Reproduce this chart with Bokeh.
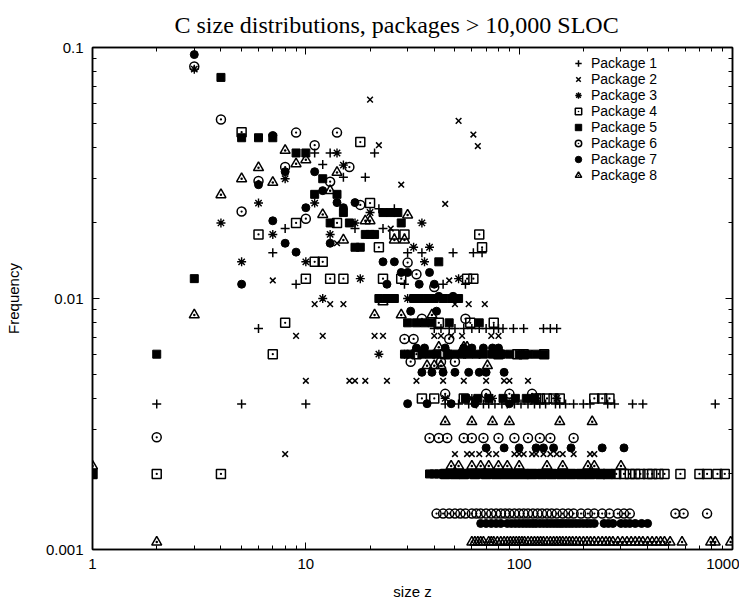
from bokeh.plotting import figure
from bokeh.models import LogAxis, FixedTicker, Legend, LegendItem, CustomJSTickFormatter
from bokeh.embed import file_html
from bokeh.resources import INLINE

# ---------------- data (size z, frequency) ----------------
names = ["Package 1", "Package 2", "Package 3", "Package 4",
         "Package 5", "Package 6", "Package 7", "Package 8"]

pkg1_x = [2, 5, 6, 7, 8, 9, 10, 11, 12, 13, 15, 17, 19, 21, 22, 23, 26, 29, 30, 35, 44, 49, 56, 61, 67]
pkg1_y = [0.0038, 0.0038, 0.0076, 0.0152, 0.019, 0.0114, 0.0038, 0.038, 0.0342, 0.038, 0.0304, 0.019,
          0.0304, 0.038, 0.0228, 0.019, 0.0228, 0.0114, 0.0152, 0.0152, 0.0114, 0.0152, 0.0114, 0.0152, 0.0152]
pkg1_rows = {
    0.0076: [40, 43, 47, 50, 55, 60, 65, 70, 76, 80, 84, 94, 105, 130, 140, 150],
    0.0038: [45, 52, 58, 63, 68, 72, 77, 83, 88, 95, 102, 110, 118, 125, 133, 148, 155, 165, 180,
             200, 215, 260, 280, 340, 380, 830],
}

pkg2_x = [7, 8, 9, 10, 11, 12, 13, 14, 15, 16, 17, 19, 20, 21, 22, 23, 24, 25, 28, 33, 40, 43, 44, 45,
          47, 48, 50, 52, 54, 55, 58, 61, 64, 69, 70, 74, 80, 85, 90, 110]
pkg2_y = [0.0118, 0.0024, 0.0071, 0.0047, 0.0095, 0.0071, 0.0095, 0.0166, 0.0095, 0.0047, 0.0047, 0.0047,
          0.062, 0.0071, 0.0408, 0.0071, 0.0047, 0.019, 0.0284, 0.0047, 0.0071, 0.0071, 0.0047, 0.0238,
          0.0118, 0.0071, 0.0095, 0.051, 0.0071, 0.0047, 0.0095, 0.045, 0.0405, 0.0095, 0.0047, 0.0071,
          0.0071, 0.0047, 0.0047, 0.0047]
pkg2_rows = {
    0.0024: [50, 57, 60, 65, 72, 78, 95, 100, 105, 115, 120, 130, 140, 150, 160, 180, 215, 225],
}

pkg3_x = [3, 4, 5, 6, 7, 8, 10, 11, 12, 13, 14, 15, 17, 18, 20, 22, 29, 30, 32, 35, 36, 38, 52]
pkg3_y = [0.082, 0.020, 0.014, 0.024, 0.018, 0.030, 0.014, 0.024, 0.010, 0.018, 0.038, 0.034, 0.020,
          0.012, 0.022, 0.006, 0.006, 0.010, 0.016, 0.020, 0.014, 0.016, 0.012]
pkg3_rows = {
    0.006: [40, 48, 55, 65, 85, 105],
    0.004: [45, 60, 75, 95, 120, 150],
    0.002: [130, 180, 220, 260],
}

pkg4_x = [1, 2, 4, 5, 6, 7, 8, 9, 10, 11, 12, 13, 14, 15, 18, 20, 22, 23, 26, 28, 29, 42, 57, 59, 61,
          65, 67, 76]
pkg4_y = [0.002, 0.002, 0.002, 0.046, 0.018, 0.006, 0.008, 0.020, 0.012, 0.014, 0.014, 0.012, 0.020,
          0.012, 0.042, 0.024, 0.016, 0.012, 0.018, 0.012, 0.018, 0.008, 0.012, 0.008, 0.012, 0.018,
          0.016, 0.008]
pkg4_rows = {
    0.006: [33, 45, 80, 98, 105, 131],
    0.004: [35, 40, 55, 120, 125, 135, 145, 155, 225, 245, 265],
    0.002: [45, 50, 55, 62, 70, 78, 86, 95, 105, 115, 128, 142, 158, 175, 195, 215, 240, 260, 285,
            310, 330, 350, 370, 400, 420, 450, 480, 570, 700, 760, 850, 920],
}

pkg5_x = [1, 2, 3, 4, 5, 6, 7, 9, 10, 11, 12, 13, 14, 15, 16, 17, 18, 19, 20, 21, 23, 25, 27, 28, 42]
pkg5_y = [0.002, 0.006, 0.012, 0.076, 0.0437, 0.0437, 0.0437, 0.038, 0.038, 0.026, 0.030, 0.020, 0.026,
          0.022, 0.020, 0.016, 0.016, 0.018, 0.018, 0.018, 0.022, 0.022, 0.022, 0.020, 0.014]
pkg5_rows = {
    0.010: [22, 24, 26, 32, 34, 37, 40, 44, 48, 52],
    0.008: [30, 33, 36, 39, 47, 65],
    0.006: [29, 31, 35, 38, 41, 46, 50, 54, 58, 63, 68, 75, 82, 90, 100, 110, 120, 130],
    0.004: [56, 64, 72, 84, 96, 108, 118],
    0.002: [38, 40, 42, 44, 46, 48, 50, 52, 54, 56, 58, 60, 62, 64, 66, 68, 70, 73, 76, 79, 82, 85, 88,
            91, 94, 97, 100, 104, 108, 112, 116, 120, 125, 130, 135, 140, 145, 150, 155, 160, 170, 180,
            190, 200, 210, 220, 230, 240, 250, 270],
}

pkg6_x = [2, 3, 4, 5, 6, 8, 9, 10, 11, 13, 14, 16, 18, 29, 30, 31, 32, 33, 35, 40, 43, 47, 50, 56]
pkg6_y = [0.0028, 0.084, 0.0517, 0.0222, 0.0294, 0.0334, 0.0458, 0.0208, 0.0408, 0.0292, 0.0458,
          0.0334, 0.0236, 0.0069, 0.0139, 0.0056, 0.0069, 0.0125, 0.0083, 0.0111, 0.0056, 0.0069,
          0.0056, 0.0083]
pkg6_rows = {
    0.00417: [45, 70, 90, 115],
    0.00278: [38, 42, 46, 55, 60, 68, 80, 95, 110, 125, 140, 180],
    0.00139: [41, 44, 47, 50, 53, 56, 60, 63, 66, 70, 74, 78, 82, 86, 90, 95, 100, 105, 110, 116, 122,
              128, 135, 142, 150, 160, 170, 180, 195, 210, 225, 245, 265, 290, 310, 330, 540, 590, 760],
}

pkg7_x = [3, 5, 6, 7, 7, 8, 8, 9, 10, 11, 12, 13, 14, 15, 17, 23, 24, 26, 28, 30, 31, 34, 38, 40, 41,
          42, 49]
pkg7_y = [0.0937, 0.0114, 0.0284, 0.0446, 0.0204, 0.032, 0.0166, 0.0153, 0.023, 0.032, 0.0269, 0.0166,
          0.0241, 0.023, 0.0241, 0.014, 0.0114, 0.014, 0.0127, 0.0127, 0.0089, 0.0114, 0.0127, 0.0114,
          0.0089, 0.0102, 0.0102]
pkg7_rows = {
    0.00635: [33, 36, 45, 55, 60, 68, 75, 80],
    0.00508: [35, 39, 44, 50, 58, 65, 70, 85],
    0.00381: [30, 37, 48, 62, 90],
    0.00254: [70, 85, 100, 120, 130, 145, 175, 245, 310],
    0.00127: [66, 70, 74, 78, 82, 88, 92, 96, 100, 104, 108, 112, 116, 120, 125, 130, 135, 140, 145,
              150, 155, 160, 166, 172, 178, 185, 192, 200, 208, 216, 225, 250, 262, 275, 300, 315, 330,
              350, 375, 400],
}

pkg8_x = [1, 2, 3, 4, 5, 6, 7, 8, 9, 10, 12, 13, 14, 15, 19, 20, 21, 23, 26, 28, 29, 30, 37, 39, 40,
          42, 43, 55, 57, 71]
pkg8_y = [0.00215, 0.00107, 0.0086, 0.0259, 0.030, 0.0332, 0.029, 0.0389, 0.0344, 0.0357, 0.0216,
          0.0269, 0.0318, 0.0171, 0.0204, 0.0204, 0.0086, 0.0097, 0.0171, 0.0086, 0.0171, 0.0215,
          0.0054, 0.0086, 0.0054, 0.0064, 0.0054, 0.0064, 0.0064, 0.0054]
pkg8_rows = {
    0.00323: [45, 60, 75, 90, 155, 220],
    0.00215: [48, 52, 60, 66, 72, 80, 88, 100, 135, 160, 210, 225, 300],
    0.00107: [60, 62, 64, 66, 68, 72, 74, 76, 79, 82, 85, 88, 91, 94, 97, 100, 103, 106, 110, 114, 118,
              122, 126, 130, 135, 140, 145, 150, 155, 160, 166, 172, 178, 185, 192, 200, 208, 216, 225,
              235, 245, 255, 265, 275, 290, 305, 320, 335, 350, 365, 380, 400, 420, 440, 460, 480, 510,
              580, 790, 830, 980],
}

x_ticks = [1, 10, 100, 1000]
x_tick_labels = ["1", "10", "100", "1000"]
y_ticks = [0.001, 0.01, 0.1]
y_tick_labels = ["0.001", "0.01", "0.1"]


def merge(xs, ys, rows):
    ax, ay = list(xs), list(ys)
    for level, row in rows.items():
        ax += row
        ay += [level] * len(row)
    return ax, ay


series = [merge(pkg1_x, pkg1_y, pkg1_rows), merge(pkg2_x, pkg2_y, pkg2_rows),
          merge(pkg3_x, pkg3_y, pkg3_rows), merge(pkg4_x, pkg4_y, pkg4_rows),
          merge(pkg5_x, pkg5_y, pkg5_rows), merge(pkg6_x, pkg6_y, pkg6_rows),
          merge(pkg7_x, pkg7_y, pkg7_rows), merge(pkg8_x, pkg8_y, pkg8_rows)]

# ---------------- figure ----------------
p = figure(frame_width=640, frame_height=502, x_axis_type="log", y_axis_type="log",
           x_range=(1, 1000), y_range=(0.001, 0.1),
           output_backend="svg", toolbar_location=None,
           min_border_left=92, min_border_right=7, min_border_top=45, min_border_bottom=40,
           title="C size distributions, packages > 10,000 SLOC")
p.title.text_font = "Liberation Serif"
p.title.text_font_size = "24px"
p.title.text_font_style = "normal"
p.title.text_color = "black"
p.title.text_line_height = 1.0
p.title.align = "left"
p.title.offset = 82
p.title.standoff = 19
p.grid.visible = False
p.outline_line_color = "black"
p.outline_line_width = 1.5
p.background_fill_color = "white"
p.border_fill_color = "white"

x_minor = [m * 10 ** d for d in range(0, 3) for m in range(2, 10)]
y_minor = [m * 10.0 ** d for d in (-3, -2) for m in range(2, 10)]


def style_axis(ax, ticks, minor):
    ax.ticker = FixedTicker(ticks=ticks, minor_ticks=minor)
    ax.major_tick_in = 7
    ax.major_tick_out = 0
    ax.minor_tick_in = 4
    ax.minor_tick_out = 0
    ax.axis_line_color = "black"
    ax.axis_line_width = 1.5
    ax.major_tick_line_color = "black"
    ax.minor_tick_line_color = "black"
    ax.major_label_text_font = "Liberation Sans"
    ax.major_label_text_font_size = "15px"
    ax.major_label_text_color = "black"
    ax.axis_label_text_font = "Liberation Sans"
    ax.axis_label_text_font_size = "15px"
    ax.axis_label_text_font_style = "normal"
    ax.axis_label_text_color = "black"


style_axis(p.xaxis[0], x_ticks, x_minor)
style_axis(p.yaxis[0], y_ticks, y_minor)
p.xaxis[0].major_label_overrides = dict(zip(x_ticks, x_tick_labels))
p.yaxis[0].major_label_overrides = dict(zip(y_ticks, y_tick_labels))
p.xaxis[0].major_label_standoff = 9
p.yaxis[0].major_label_standoff = 9
p.xaxis[0].axis_label = "size z"
p.yaxis[0].axis_label = "Frequency"
p.xaxis[0].axis_label_standoff = 11
p.yaxis[0].axis_label_standoff = 21

blank = CustomJSTickFormatter(code="return ''")
top_ax = LogAxis(formatter=blank, major_label_standoff=0)
right_ax = LogAxis(formatter=blank, major_label_standoff=0)
style_axis(top_ax, x_ticks, x_minor)
style_axis(right_ax, y_ticks, y_minor)
p.add_layout(top_ax, "above")
p.add_layout(right_ax, "right")

# ---------------- markers ----------------
styles = [
    dict(marker="cross", size=9, line_color="black", line_width=1.5),
    dict(marker="x", size=8, line_color="black", line_width=1.5),
    dict(marker="asterisk", size=9, line_color="black", line_width=1.4),
    dict(marker="square_dot", size=9, line_color="black", fill_color=None, line_width=1.5),
    dict(marker="square", size=8, line_color="black", fill_color="black", line_width=1),
    dict(marker="circle_dot", size=9, line_color="black", fill_color=None, line_width=1.5),
    dict(marker="circle", size=8, line_color="black", fill_color="black", line_width=1),
    dict(marker="triangle_dot", size=10, line_color="black", fill_color=None, line_width=1.5),
]

items = []
for name, (xs, ys), st in zip(names, series, styles):
    r = p.scatter(xs, ys, **st)
    items.append(LegendItem(label=name, renderers=[r]))

legend = Legend(items=items, location=(478, 366))
legend.padding = 0
legend.margin = 0
legend.spacing = 0
legend.glyph_width = 16
legend.glyph_height = 16
legend.label_height = 16
legend.label_standoff = 5
legend.label_text_font = "Liberation Sans"
legend.label_text_font_size = "14px"
legend.label_text_line_height = 1.0
legend.label_text_color = "black"
legend.border_line_alpha = 0
legend.background_fill_alpha = 0
p.add_layout(legend)

open("out.html", "w").write(file_html(p, INLINE))
